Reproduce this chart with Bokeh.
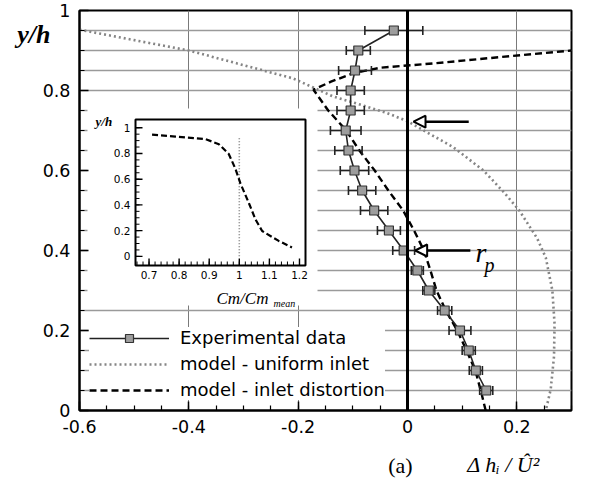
import numpy as np
from bokeh.plotting import figure
from bokeh.models import (Range1d, FixedTicker, CustomJSTickFormatter, Label, Span,
                          Arrow, NormalHead, Legend, LegendItem, LinearAxis)
from bokeh.core.properties import value
from bokeh.embed import file_html
from bokeh.resources import INLINE

# ---------------- data ----------------
exp_y = [0.95, 0.90, 0.85, 0.80, 0.75, 0.70, 0.65, 0.60, 0.55, 0.50,
         0.45, 0.40, 0.35, 0.30, 0.25, 0.20, 0.15, 0.10, 0.05]
exp_x = [-0.025, -0.090, -0.096, -0.104, -0.104, -0.113, -0.108, -0.097, -0.083, -0.061,
         -0.034, -0.007, 0.018, 0.039, 0.068, 0.096, 0.112, 0.125, 0.144]
exp_err = [0.053, 0.022, 0.030, 0.025, 0.025, 0.028, 0.025, 0.026, 0.025, 0.025,
           0.021, 0.020, 0.011, 0.011, 0.013, 0.020, 0.012, 0.012, 0.012]

uni_x = [-0.60, -0.40, -0.209, -0.136, -0.087, -0.038, 0.0, 0.084, 0.139, 0.176,
         0.204, 0.237, 0.253, 0.265, 0.269, 0.268, 0.262, 0.253]
uni_y = [0.952, 0.900, 0.830, 0.785, 0.765, 0.744, 0.723, 0.658, 0.600, 0.546,
         0.501, 0.431, 0.382, 0.300, 0.217, 0.135, 0.053, 0.0]

dist_x = [0.143, 0.134, 0.124, 0.108, 0.091, 0.070, 0.053, 0.042, 0.030, 0.012,
          -0.008, -0.035, -0.060, -0.088, -0.112, -0.145, -0.172,
          -0.140, -0.100, -0.050, 0.050, 0.150, 0.300]
dist_y = [0.00, 0.05, 0.10, 0.15, 0.20, 0.25, 0.30, 0.35, 0.40, 0.45,
          0.50, 0.55, 0.60, 0.65, 0.70, 0.75, 0.802,
          0.822, 0.843, 0.857, 0.868, 0.881, 0.900]

inset_cx = [0.710, 0.788, 0.888, 0.932, 0.965, 0.987, 1.004, 1.032, 1.054, 1.076, 1.131, 1.175]
inset_cy = [0.946, 0.931, 0.911, 0.872, 0.796, 0.681, 0.566, 0.413, 0.286, 0.197, 0.120, 0.069]
inset_ref_x = [1.0, 1.0]
inset_ref_y = [0.0, 0.93]

arrow_y = [0.722, 0.400]
arrow_x_start = [0.112, 0.115]
arrow_x_end = [0.011, 0.014]

x_major = [-0.6, -0.4, -0.2, 0.0, 0.2]
x_minor = [round(-0.6 + 0.05 * i, 2) for i in range(19)]
y_major = [0.0, 0.2, 0.4, 0.6, 0.8, 1.0]
y_minor = [round(0.05 * i, 2) for i in range(21)]
x_grid = [-0.4, -0.2, 0.2]
y_grid = [round(0.05 * i, 2) for i in range(1, 20)]

ix_major = [0.7, 0.8, 0.9, 1.0, 1.1, 1.2]
ix_labels = ["0.7", "0.8", "0.9", "1", "1.1", "1.2"]
ix_minor = [round(0.66 + 0.02 * i, 2) for i in range(28)]
iy_major = [0.0, 0.2, 0.4, 0.6, 0.8, 1.0]
iy_labels = ["0", "0.2", "0.4", "0.6", "0.8", "1"]
iy_minor = [round(0.05 * i, 2) for i in range(21)]

y_title = "y/h"
x_title = "\u0394 h\u1d62 / \u00db\u00b2"
panel_tag = "(a)"

# ---------------- layout (page pixels) ----------------
X0, X1, Y0, Y1 = -0.6, 0.3, 0.0, 1.0
FL, FR, FT, FB = 87, 579, 18, 418   # main frame on page
W, H = 573, 483

def dx(px):
    return X0 + (px - FL) * (X1 - X0) / (FR - FL)

def dy(py):
    return Y0 + (FB - py) * (Y1 - Y0) / (FB - FT)

# inset frame on page and its data limits
IL, IR, IT, IB = 143, 313, 127, 273
ixlim = (0.655, 1.22)
iylim = (-0.071, 1.064)
kx = (IR - IL) / (ixlim[1] - ixlim[0])
ky = (IB - IT) / (iylim[1] - iylim[0])
ix_start = ixlim[0] - (IL - FL) / kx
ix_end = ix_start + (FR - FL) / kx
iy_start = iylim[0] - (FB - IB) / ky
iy_end = iy_start + (FB - FT) / ky

SANS = "DejaVu Sans"
SERIF = "Liberation Serif"

p = figure(width=W, height=H, x_range=Range1d(X0, X1), y_range=Range1d(Y0, Y1),
           output_backend="svg", toolbar_location=None,
           min_border_left=FL - 8, min_border_right=W - (FR - 8),
           min_border_top=FT - 8, min_border_bottom=H - (FB - 8),
           background_fill_color="white", border_fill_color="white")
p.extra_x_ranges = {"ix": Range1d(ix_start, ix_end)}
p.extra_y_ranges = {"iy": Range1d(iy_start, iy_end)}

p.outline_line_color = "black"
p.outline_line_width = 2

fmt = CustomJSTickFormatter(code="return String(Math.round(tick*1000)/1000);")
for ax, maj, mnr in ((p.xaxis[0], x_major, x_minor), (p.yaxis[0], y_major, y_minor)):
    ax.ticker = FixedTicker(ticks=maj, minor_ticks=mnr)
    ax.formatter = fmt
    ax.axis_line_width = 2
    ax.axis_line_color = "black"
    ax.major_tick_in = 9
    ax.major_tick_out = 0
    ax.minor_tick_in = 5
    ax.minor_tick_out = 0
    ax.major_tick_line_width = 1.5
    ax.minor_tick_line_width = 1.2
    ax.major_label_text_font = SANS
    ax.major_label_text_font_size = "17.5px"
    ax.major_label_text_color = "black"
    ax.major_label_standoff = 9

# axis titles drawn as extra, line-less axes outside the frame
def title_axis(place, tick, code, size, style, standoff):
    a = LinearAxis(ticker=FixedTicker(ticks=[tick], minor_ticks=[]),
                   formatter=CustomJSTickFormatter(code=code),
                   axis_line_color=None, major_tick_in=0, major_tick_out=0,
                   minor_tick_in=0, minor_tick_out=0, major_tick_line_color=None,
                   minor_tick_line_color=None,
                   major_label_text_font=SERIF, major_label_text_font_size=size,
                   major_label_text_font_style=style, major_label_text_color="black",
                   major_label_standoff=standoff)
    p.add_layout(a, place)
    return a

title_axis("left", dy(42), "return %r;" % y_title, "26px", "bold italic", -11)
title_axis("below", dx(511), "return %r;" % x_title, "22px", "italic", 16)
title_axis("below", dx(408), "return %r;" % panel_tag, "22px", "normal", -27)

p.xgrid.ticker = FixedTicker(ticks=x_grid)
p.xgrid.grid_line_color = "#7a7a7a"
p.xgrid.grid_line_width = 1
p.ygrid.ticker = FixedTicker(ticks=y_grid)
p.ygrid.grid_line_color = "#9a9a9a"
p.ygrid.grid_line_width = 1.4

# white panel behind inset
p.quad(left=[dx(95)], right=[dx(325)], top=[dy(116)], bottom=[dy(313)],
       fill_color="white", line_color=None)

# model curves
r_uni = p.line(uni_x, uni_y, line_color="#858585", line_width=2.6, line_dash="2 3")
r_dist = p.line(dist_x, dist_y, line_color="black", line_width=2.4, line_dash="7 4")

# experimental error bars
lo = [x - e for x, e in zip(exp_x, exp_err)]
hi = [x + e for x, e in zip(exp_x, exp_err)]
p.segment(x0=lo, y0=exp_y, x1=hi, y1=exp_y, line_color="#222222", line_width=1.6)
p.scatter(lo + hi, exp_y + exp_y, marker="dash", angle=np.pi / 2, size=9,
          line_color="#222222", line_width=1.6)
r_exp_line = p.line(exp_x, exp_y, line_color="#222222", line_width=1.6)
r_exp_pts = p.scatter(exp_x, exp_y, marker="square", size=9, fill_color="#9d9d9d",
                      line_color="#333333", line_width=1.2)

# ---------------- inset ----------------
ik = dict(x_range_name="ix", y_range_name="iy")
p.quad(left=[ixlim[0]], right=[ixlim[1]], bottom=[iylim[0]], top=[iylim[1]],
       fill_color=None, line_color="black", line_width=2, **ik)
p.line(inset_ref_x, inset_ref_y, line_color="#808080", line_width=1.6, line_dash="1 2", **ik)
p.line(inset_cx, inset_cy, line_color="black", line_width=2.2, line_dash="6 3", **ik)
p.ray(x=ix_major, y=[iylim[0]] * len(ix_major), length=7, length_units="screen",
      angle=np.pi / 2, line_color="black", line_width=1.4, **ik)
p.ray(x=ix_minor, y=[iylim[0]] * len(ix_minor), length=4, length_units="screen",
      angle=np.pi / 2, line_color="black", line_width=1.0, **ik)
p.ray(x=[ixlim[0]] * len(iy_major), y=iy_major, length=7, length_units="screen",
      angle=0, line_color="black", line_width=1.4, **ik)
p.ray(x=[ixlim[0]] * len(iy_minor), y=iy_minor, length=4, length_units="screen",
      angle=0, line_color="black", line_width=1.0, **ik)
p.text(x=ix_major, y=[iylim[0]] * len(ix_major), text=ix_labels, y_offset=5,
       text_align="center", text_baseline="top", text_font=value(SANS),
       text_font_size="10.5px", text_color="black", **ik)
p.text(x=[ixlim[0]] * len(iy_major), y=iy_major, text=iy_labels, x_offset=-5,
       text_align="right", text_baseline="middle", text_font=value(SANS),
       text_font_size="10.5px", text_color="black", **ik)

# ---------------- legend ----------------
legend = Legend(items=[LegendItem(label="Experimental data", renderers=[r_exp_line, r_exp_pts]),
                       LegendItem(label="model - uniform inlet", renderers=[r_uni]),
                       LegendItem(label="model - inlet distortion", renderers=[r_dist])],
                location=(10, 10), glyph_width=80, glyph_height=20, label_height=20,
                spacing=5, padding=10, margin=0, label_standoff=11,
                label_text_font=SANS, label_text_font_size="18px",
                label_text_color="black", background_fill_color="white",
                background_fill_alpha=1.0, border_line_color=None)
p.add_layout(legend)

p.add_layout(Span(location=0, dimension="height", line_color="black", line_width=3))

for ya, xs, xe in zip(arrow_y, arrow_x_start, arrow_x_end):
    p.add_layout(Arrow(end=NormalHead(size=12, fill_color="white", line_color="black",
                                      line_width=2),
                       x_start=xs, y_start=ya, x_end=xe, y_end=ya,
                       line_color="black", line_width=2.5))

# ---------------- texts inside the frame ----------------
def lab(text, px, py, size, font=SERIF, style="italic", align="left", base="alphabetic"):
    p.add_layout(Label(x=dx(px), y=dy(py), text=text, text_font=font,
                       text_font_size=size, text_font_style=style, text_color="black",
                       text_align=align, text_baseline=base))

lab("r", 483, 260, "28px")
lab("p", 492, 272, "20px")
lab("y/h", 103, 129, "13px", style="bold italic")
lab("Cm/Cm", 224, 306, "17px")
lab("mean", 281, 311, "10px")

open("out.html", "w").write(file_html(p, INLINE))
